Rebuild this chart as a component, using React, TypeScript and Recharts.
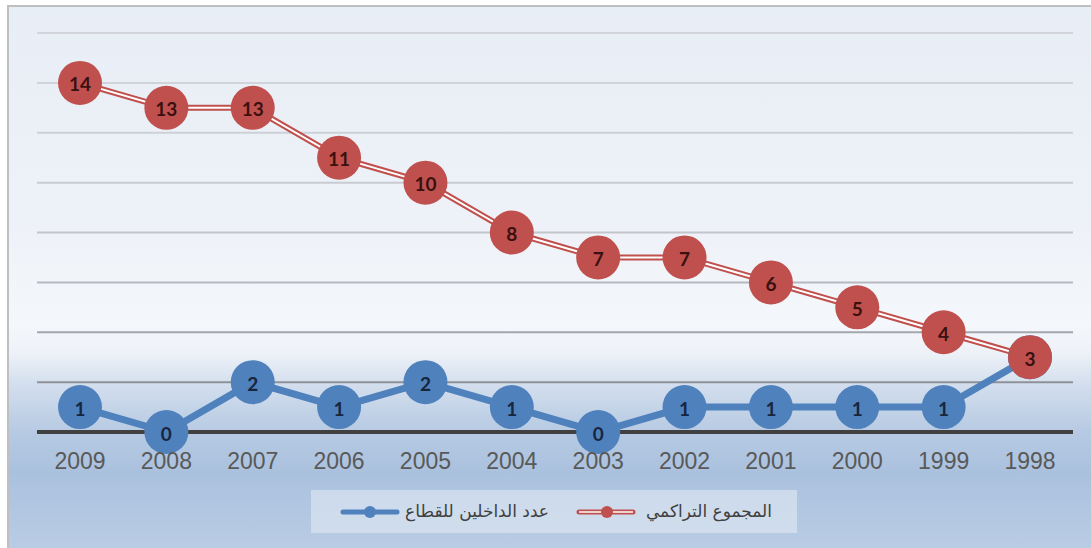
import React from 'react';
import { LineChart, Line, XAxis, YAxis, ReferenceLine } from 'recharts';

const years = ['2009', '2008', '2007', '2006', '2005', '2004', '2003', '2002', '2001', '2000', '1999', '1998'];
const entrants = [1, 0, 2, 1, 2, 1, 0, 1, 1, 1, 1, 3];
const cumulative = [14, 13, 13, 11, 10, 8, 7, 7, 6, 5, 4, 3];
const yTicks = [0, 2, 4, 6, 8, 10, 12, 14, 16];
const entrantsName = 'عدد الداخلين للقطاع';
const cumulativeName = 'المجموع التراكمي';

const data = years.map((y, i) => ({ year: y, entrants: entrants[i], cumulative: cumulative[i] }));

const BLUE = '#4F81BD';
const RED = '#C0504D';
// grid line colours from bottom (value 2) to top (value 16)
const gridColors = ['#8E9298', '#A3A7AD', '#B6BABF', '#C2C6CC', '#C8CCD2', '#CDD1D7', '#D0D4DA', '#D2D6DC'];

const makeDot = (key: string, fill: string, textColor: string) => (props: any) => {
  const { cx, cy, payload, index } = props;
  if (cx == null || cy == null) return <g key={`${key}-${index}`} />;
  return (
    <g key={`${key}-${index}`}>
      <circle cx={cx} cy={cy} r={22} fill={fill} />
      <text
        x={cx}
        y={cy + 1}
        textAnchor="middle"
        dominantBaseline="central"
        fontFamily="Lato, 'Open Sans', sans-serif"
        fontWeight={700}
        fontSize={19}
        fill={textColor}
      >
        {payload[key]}
      </text>
    </g>
  );
};

export default function App() {
  return (
    <div style={{ position: 'absolute', left: 0, top: 0, width: 1091, height: 548, overflow: 'hidden', background: '#fff' }}>
      <div
        style={{
          position: 'absolute',
          left: 7,
          top: 5,
          width: 1091,
          height: 548,
          borderTop: '2px solid #BFBFBF',
          borderLeft: '2px solid #BFBFBF',
          background:
            'linear-gradient(to bottom, #E8EEF6 0%, #EEF2F8 40%, #F4F7FB 58%, #EEF2F8 63%, #D2DEED 69%, #B5C9E2 78%, #AAC1DE 85%, #BBCDE5 100%)',
        }}
      />
      <div style={{ position: 'absolute', left: 0, top: 0 }}>
        <LineChart width={1091} height={548} data={data} margin={{ top: 33, right: 18, left: 37, bottom: 76 }}>
          <YAxis
            width={0}
            domain={[0, 16]}
            ticks={yTicks}
            tick={false}
            axisLine={false}
            tickLine={false}
          />
          <XAxis
            dataKey="year"
            height={40}
            padding={{ left: 43, right: 43 }}
            tickLine={false}
            axisLine={{ stroke: '#404040', strokeWidth: 4 }}
            tickMargin={15}
            tick={{ fill: '#595959', fontSize: 23, fontFamily: "'Liberation Sans', Arial, sans-serif" }}
            interval={0}
          />
          {yTicks.slice(1).map((t, i) => (
            <ReferenceLine key={t} y={t} stroke={gridColors[i]} strokeWidth={2} ifOverflow="extendDomain" />
          ))}
          <Line
            dataKey="entrants"
            stroke={BLUE}
            strokeWidth={7}
            isAnimationActive={false}
            dot={makeDot('entrants', BLUE, '#17253D')}
            activeDot={false}
          />
          <Line
            dataKey="cumulative"
            stroke={RED}
            strokeWidth={6}
            isAnimationActive={false}
            dot={false}
            activeDot={false}
          />
          <Line
            dataKey="cumulative"
            stroke="#FFFFFF"
            strokeWidth={2}
            isAnimationActive={false}
            dot={makeDot('cumulative', RED, '#3A1010')}
            activeDot={false}
          />
        </LineChart>
      </div>
      <div
        style={{
          position: 'absolute',
          left: 311,
          top: 490,
          width: 486,
          height: 43,
          background: 'rgba(225,233,244,0.6)',
          fontFamily: "'DejaVu Sans', sans-serif",
          fontSize: 17,
          color: '#404040',
        }}
      >
        <svg width={486} height={43} style={{ position: 'absolute', left: 0, top: 0 }}>
          <line x1={32} y1={22} x2={86} y2={22} stroke={BLUE} strokeWidth={5} strokeLinecap="round" />
          <circle cx={59} cy={22} r={6} fill={BLUE} />
          <line x1={268} y1={22} x2={322} y2={22} stroke={RED} strokeWidth={5} strokeLinecap="round" />
          <line x1={268} y1={22} x2={322} y2={22} stroke="#FFFFFF" strokeWidth={1.6} />
          <circle cx={296} cy={22} r={6} fill={RED} />
        </svg>
        <div dir="rtl" style={{ position: 'absolute', left: 88, width: 150, top: 0, height: 43, lineHeight: '43px', textAlign: 'right', whiteSpace: 'nowrap' }}>
          {entrantsName}
        </div>
        <div dir="rtl" style={{ position: 'absolute', left: 323, width: 138, top: 0, height: 43, lineHeight: '43px', textAlign: 'right', whiteSpace: 'nowrap' }}>
          {cumulativeName}
        </div>
      </div>
    </div>
  );
}
